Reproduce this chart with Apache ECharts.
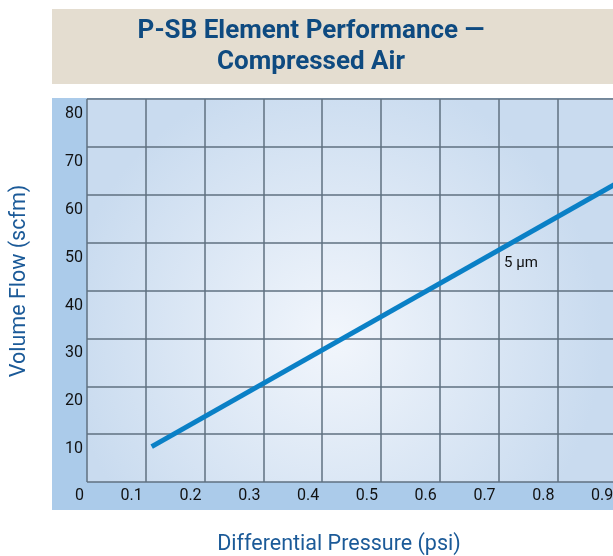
<!DOCTYPE html>
<html>
<head>
<meta charset="utf-8">
<script src="https://cdn.jsdelivr.net/npm/echarts@6/dist/echarts.min.js"></script>
<style>html,body{margin:0;padding:0;background:#fff}#c{width:613px;height:556px}</style>
</head>
<body>
<div id="c"></div>
<script>
var titleLines = ['P-SB Element Performance —', 'Compressed Air'];
var xAxisTitle = 'Differential Pressure (psi)';
var yAxisTitle = 'Volume Flow (scfm)';
var seriesName = '5 µm';
var pressure = [0.11, 1.0];
var flow = [7.4, 69.3];
var labelPoint = [0.738, 45.7];
var xMin = 0, xMax = 1.0, xStep = 0.1;
var yMin = 0, yMax = 80, yStep = 10;

var FONT = '"Roboto", sans-serif';
var chart = echarts.init(document.getElementById('c'));
var data = pressure.map(function (p, i) { return [p, flow[i]]; });

chart.setOption({
  animation: false,
  backgroundColor: '#ffffff',
  grid: {
    left: 87, width: 588, top: 99, height: 383,
    outerBoundsMode: 'none', containLabel: false,
    show: true, borderWidth: 0,
    backgroundColor: {
      type: 'radial', x: 0.42, y: 0.62, r: 0.7,
      colorStops: [{offset: 0, color: '#f2f6fc'}, {offset: 1, color: '#c9dbef'}]
    }
  },
  graphic: [
    {type: 'rect', z: -100, shape: {x: 52, y: 9, width: 561, height: 75}, style: {fill: '#e4ddd0'}},
    {type: 'rect', z: -100, shape: {x: 52, y: 98, width: 561, height: 412}, style: {fill: '#abcbea'}},
    {type: 'text', z: 100, x: 311, y: 31, style: {text: titleLines[0], fill: '#0e4a80', font: 'bold 26px ' + FONT, textAlign: 'center', textVerticalAlign: 'middle'}},
    {type: 'text', z: 100, x: 311, y: 62, style: {text: titleLines[1], fill: '#0e4a80', font: 'bold 26px ' + FONT, textAlign: 'center', textVerticalAlign: 'middle'}},
    {type: 'text', z: 100, x: 339, y: 545, style: {text: xAxisTitle, fill: '#1b5a98', font: '21.5px ' + FONT, textAlign: 'center', textVerticalAlign: 'middle'}},
    {type: 'text', z: 100, x: 20, y: 281, rotation: Math.PI / 2, style: {text: yAxisTitle, fill: '#1b5a98', font: '21.5px ' + FONT, textAlign: 'center', textVerticalAlign: 'middle'}}
  ],
  xAxis: {
    type: 'value', min: xMin, max: xMax, interval: xStep,
    axisLine: {show: false}, axisTick: {show: false},
    splitLine: {show: true, lineStyle: {color: '#5f7080', width: 1.5}},
    axisLabel: {
      color: '#111', fontFamily: FONT, fontSize: 16, margin: 6,
      align: 'right', padding: [0, 3, 0, 0], showMaxLabel: true
    }
  },
  yAxis: {
    type: 'value', min: yMin, max: yMax, interval: yStep,
    axisLine: {show: false}, axisTick: {show: false},
    splitLine: {show: true, lineStyle: {color: '#5f7080', width: 1.5}},
    axisLabel: {
      color: '#111', fontFamily: FONT, fontSize: 16, margin: 4,
      verticalAlign: 'top', lineHeight: 30, showMinLabel: false
    }
  },
  series: [{
    type: 'line', name: seriesName, data: data, symbol: 'none',
    lineStyle: {color: '#0a80c6', width: 5, cap: 'butt'},
    markPoint: {
      symbol: 'circle', symbolSize: 0,
      data: [{coord: labelPoint, value: seriesName}],
      label: {show: true, formatter: seriesName, color: '#111', fontFamily: FONT, fontSize: 15, position: 'inside'}
    }
  }]
});
</script>
</body>
</html>
